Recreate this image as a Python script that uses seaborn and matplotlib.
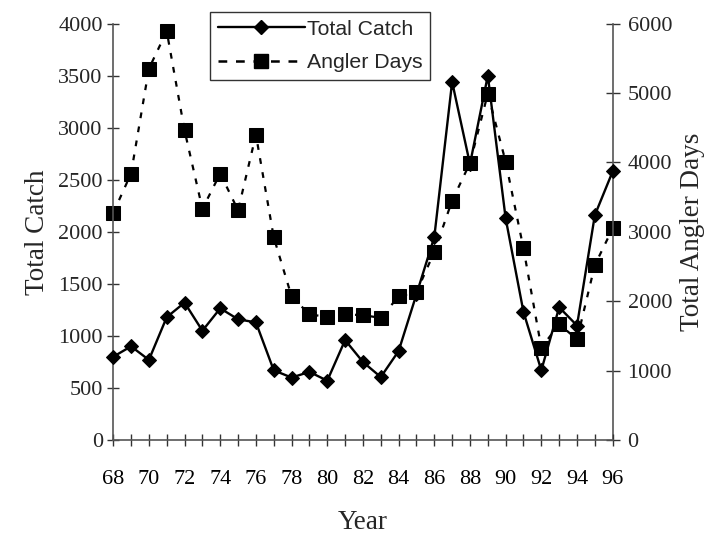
import numpy as np
import pandas as pd
import matplotlib
matplotlib.use("Agg")
import matplotlib.pyplot as plt
import seaborn as sns
from matplotlib.ticker import MultipleLocator
from matplotlib.lines import Line2D

years = list(range(68, 97))
total_catch = [800, 900, 770, 1180, 1320, 1050, 1265, 1160, 1130, 670,
               600, 655, 570, 960, 750, 605, 855, 1400, 1950, 3440,
               2650, 3500, 2130, 1230, 670, 1275, 1100, 2160, 2580]
angler_days = [3270, 3840, 5350, 5890, 4460, 3330, 3840, 3310, 4400, 2920,
               2070, 1810, 1775, 1810, 1800, 1760, 2070, 2130, 2710, 3450,
               3990, 4990, 4010, 2760, 1330, 1670, 1450, 2520, 3050]

df = pd.DataFrame({"Year": years, "Total Catch": total_catch, "Angler Days": angler_days})

sns.set_style("white")
plt.rcParams["font.family"] = ["Liberation Serif", "DejaVu Serif"]

DASH = (0, (2.6, 3.8))
LEG_DASH = (0, (3.5, 3.5))

fig = plt.figure(figsize=(7.12, 5.36), dpi=100)
ax = fig.add_axes([0.159, 0.179, 0.8605 - 0.159, 0.956 - 0.179])
ax2 = ax.twinx()

sns.lineplot(data=df, x="Year", y="Total Catch", ax=ax, color="black", linewidth=1.7,
             marker="D", markersize=7.2, markeredgecolor="black", zorder=3)
sns.lineplot(data=df, x="Year", y="Angler Days", ax=ax2, color="black", linewidth=1.6,
             marker="s", markersize=10, markeredgecolor="black", zorder=2)
for ln in ax2.lines:
    ln.set_linestyle(DASH)
for ln in ax.lines + ax2.lines:
    ln.set_clip_on(False)

ax.set_xlim(68, 96)
ax.set_ylim(0, 4000)
ax2.set_ylim(0, 6000)
ax.set_yticks(range(0, 4001, 500))
ax2.set_yticks(range(0, 6001, 1000))
ax.xaxis.set_major_locator(MultipleLocator(2))
ax.xaxis.set_minor_locator(MultipleLocator(1))

for a in (ax, ax2):
    for s in a.spines.values():
        s.set_color("#555555")
        s.set_linewidth(1.2)
    a.spines["top"].set_visible(False)
ax.spines["right"].set_visible(False)
ax2.spines["left"].set_visible(False)
ax2.spines["bottom"].set_visible(False)

ax.tick_params(axis="x", which="both", direction="inout", length=8, width=1, color="#333333",
               labelcolor="black", labelsize=16, pad=17.5, bottom=True)
ax.tick_params(axis="y", direction="inout", length=9, width=1, color="#333333",
               labelsize=16, left=True, pad=3)
ax2.tick_params(axis="y", direction="inout", length=9.4, width=1, color="#333333",
                labelsize=16, right=True, pad=6)

ax.set_xlabel("Year", fontsize=19.5, labelpad=15.5)
ax.set_ylabel("Total Catch", fontsize=19.5, labelpad=6)
ax2.set_ylabel("Total Angler Days", fontsize=19.5, labelpad=6)

handles = [
    Line2D([], [], color="black", linewidth=1.7, marker="D", markersize=7.2),
    Line2D([], [], color="black", linewidth=1.8, marker="s", markersize=10, linestyle=LEG_DASH),
]
leg = ax.legend(handles, ["Total Catch", "Angler Days"], loc="upper left",
                bbox_to_anchor=(0.194, 1.0276), frameon=True, fancybox=False,
                edgecolor="black", handlelength=4.1, handletextpad=0.1,
                borderpad=0.35, labelspacing=0.7, borderaxespad=0,
                prop={"family": "Liberation Sans", "size": 15.3})
leg.get_frame().set_linewidth(1.0)
if ax2.get_legend():
    ax2.get_legend().remove()
ax.set_zorder(ax2.get_zorder() + 1)
ax.patch.set_visible(False)

fig.savefig("out.png", dpi=100)
